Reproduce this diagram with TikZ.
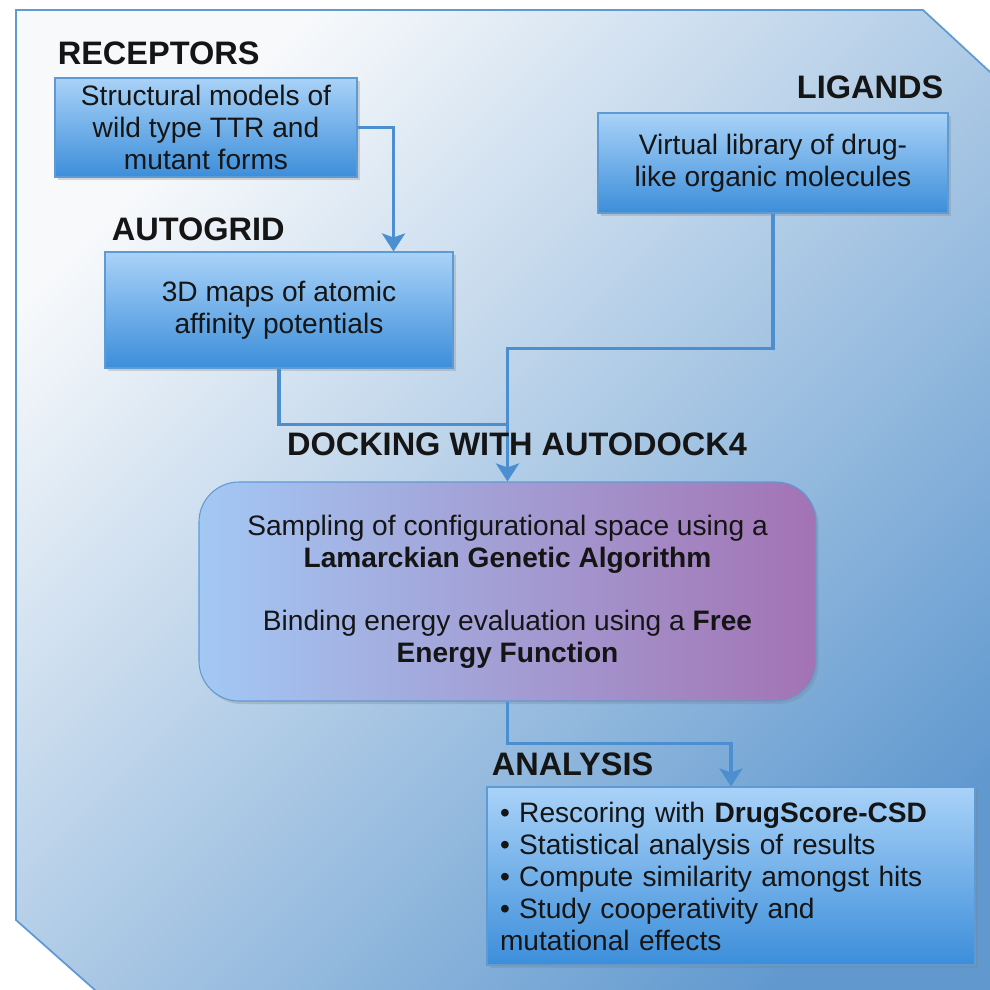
\documentclass[tikz,border=0pt]{standalone}
\usepackage{fontspec}
\setmainfont{Liberation Sans}
\usepackage{xcolor}
\usetikzlibrary{positioning,shadows,arrows.meta,calc}
\definecolor{bglight}{HTML}{F7F9FB}
\definecolor{bgdark}{HTML}{6199CF}
\definecolor{boxtop}{HTML}{A9D2F8}
\definecolor{boxbot}{HTML}{3C8EDA}
\definecolor{boxline}{HTML}{5E9AD4}
\definecolor{dockleft}{HTML}{A3C8F4}
\definecolor{dockright}{HTML}{A373B4}
\definecolor{flow}{HTML}{4B8FD1}
\definecolor{ink}{HTML}{151515}
\tikzset{%
	block/.style    = {draw=boxline, line width=0.6pt, rectangle, top color=boxtop,
		bottom color=boxbot, text=ink, align=center, font=\fontsize{16}{18.2}\selectfont,
		drop shadow={shadow xshift=0.05cm, shadow yshift=-0.06cm, opacity=0.3}},
	head/.style     = {inner sep=0pt, text=ink, font=\fontsize{18.5}{22}\selectfont\bfseries},
	flowline/.style = {draw=flow, line width=2.2pt}
}
\begin{document}
\begin{tikzpicture}[>={Stealth[width=0.46cm,length=0.36cm,inset=0.08cm]}]
	\path[use as bounding box] (0,0) rectangle (19.8,-19.8);
	\clip (0,0) rectangle (19.8,-19.8);
	% backdrop with cut corners
	\path[draw=boxline, line width=1pt, top color=bglight, bottom color=bgdark, shading angle=45]
	(0.32,-0.2) -- (18.46,-0.2) -- (20.6,-2.18) -- (20.6,-20.6) -- (2.8,-20.6) -- (0.32,-18.4) -- cycle;
	
	\node[block, minimum width=6.04cm, minimum height=1.98cm] (rec) at (4.12,-2.55)
		{Structural models of\\ wild type TTR and\\ mutant forms};
	\node[block, minimum width=7cm, minimum height=2cm] (lig) at (15.46,-3.26)
		{Virtual library of drug-\\ like organic molecules};
	\node[block, minimum width=6.96cm, minimum height=2.32cm] (grid) at (5.58,-6.2)
		{3D maps of atomic\\ affinity potentials};
	\node[block, rounded corners=0.8cm, left color=dockleft, right color=dockright,
		minimum width=12.34cm, minimum height=4.38cm] (dock) at (10.15,-11.83)
		{Sampling of configurational space using a\\ \textbf{Lamarckian Genetic Algorithm}\\[0.62cm]
		Binding energy evaluation using a \textbf{Free}\\ \textbf{Energy Function}};
	\node[block, align=left, text width=9.24cm, inner xsep=0.26cm, minimum height=3.56cm] (ana) at (14.62,-17.52)
		{• Rescoring with \textbf{DrugScore-CSD}\\ • Statistical analysis of results\\
		• Compute similarity amongst hits\\ • Study cooperativity and\\ mutational effects};
	
	\coordinate (ligbend) at ($(lig.south)+(0,-2.7)$);
	\coordinate (gridjoin) at ($(dock.north)+(0,1.14)$);
	\coordinate (dockbend) at ($(dock.south)+(0,-0.84)$);
	\draw[flowline, ->] (rec) -| ([xshift=-1.2cm]grid.north east);
	\draw[flowline] (grid) |- (gridjoin);
	\draw[flowline, ->] (lig) -- (ligbend) -| (dock);
	\draw[flowline, ->] (dock) -- (dockbend) -| (ana);
	
	\node[head, above right=0.24cm and 0.06cm of rec.north west] (recl) {RECEPTORS};
	\node[head, above left=0.26cm and 0.1cm of lig.north east] (ligl) {LIGANDS};
	\node[head, above right=0.2cm and 0.14cm of grid.north west] (gridl) {AUTOGRID};
	\node[head, above=0.5cm of dock.north, xshift=0.19cm] (dockl) {DOCKING WITH AUTODOCK4};
	\node[head, above right=0.2cm and 0.1cm of ana.north west] (anal) {ANALYSIS};
\end{tikzpicture}
\end{document}
